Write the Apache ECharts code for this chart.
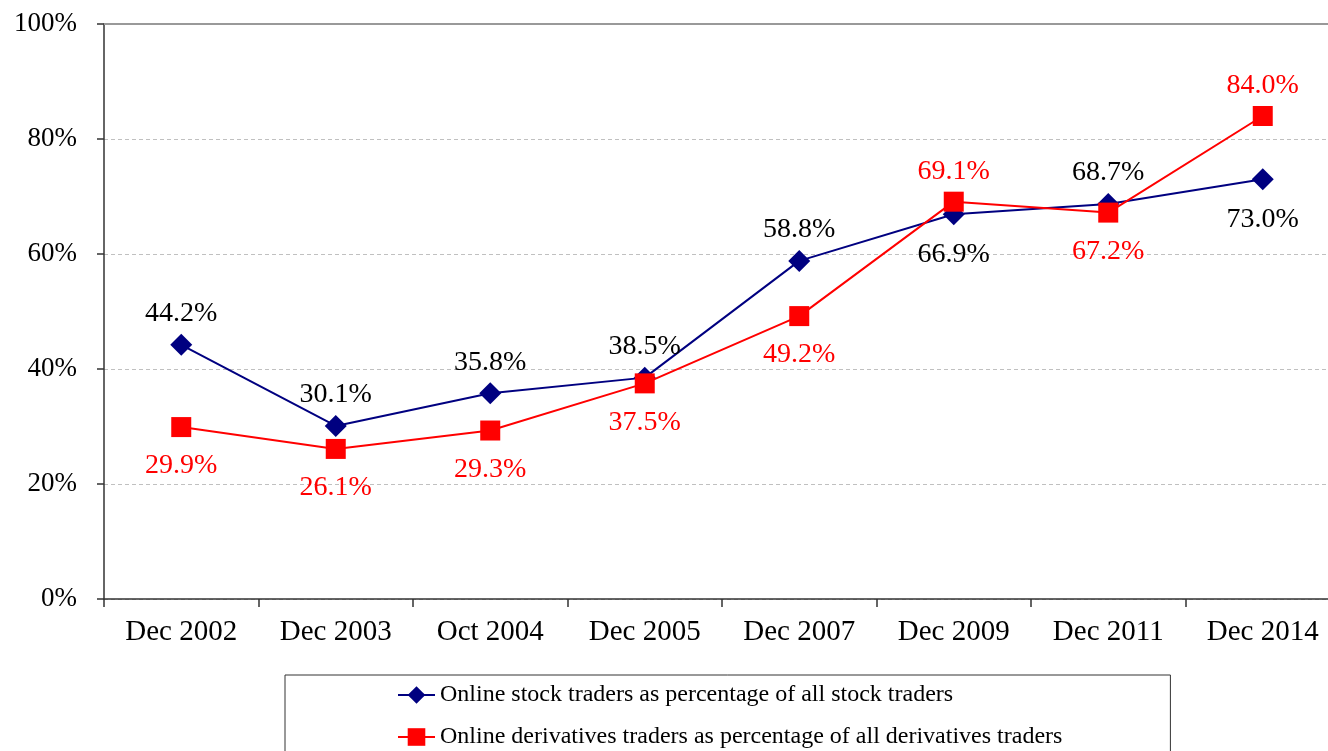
<!DOCTYPE html>
<html>
<head>
<meta charset="utf-8">
<script src="https://cdn.jsdelivr.net/npm/echarts@6/dist/echarts.min.js"></script>
<style>
html,body{margin:0;padding:0;background:#fff;}
#chart{width:1328px;height:751px;}
</style>
</head>
<body>
<div id="chart"></div>
<script>
const categories = ['Dec 2002','Dec 2003','Oct 2004','Dec 2005','Dec 2007','Dec 2009','Dec 2011','Dec 2014'];
const stockValues = [44.2, 30.1, 35.8, 38.5, 58.8, 66.9, 68.7, 73.0];
const derivValues = [29.9, 26.1, 29.3, 37.5, 49.2, 69.1, 67.2, 84.0];
// label placement: true = above the point
const stockLabelAbove = [true, true, true, true, true, false, true, false];
const derivLabelAbove = [false, false, false, false, false, true, false, true];
const stockName = 'Online stock traders as percentage of all stock traders';
const derivName = 'Online derivatives traders as percentage of all derivatives traders';

const FONT = "'Liberation Serif', 'Times New Roman', serif";

function buildData(values, above) {
  return values.map((v, i) => ({
    value: v,
    label: {
      position: above[i] ? 'top' : 'bottom',
      distance: above[i] ? 6 : 15
    }
  }));
}

const chart = echarts.init(document.getElementById('chart'), null, {renderer: 'canvas'});
chart.setOption({
  backgroundColor: '#ffffff',
  animation: false,
  grid: {left: 104, top: 24, width: 1236, height: 575, outerBoundsMode: 'none', containLabel: false},
  xAxis: {
    type: 'category',
    data: categories,
    boundaryGap: true,
    axisLine: {lineStyle: {color: '#333', width: 1.5}},
    axisTick: {show: true, interval: 0, length: 8, lineStyle: {color: '#333', width: 1.5}},
    axisLabel: {color: '#000', fontFamily: FONT, fontSize: 29, margin: 19, interval: 0}
  },
  yAxis: {
    type: 'value',
    min: 0, max: 100, interval: 20,
    axisLine: {show: true, lineStyle: {color: '#333', width: 1.5}},
    axisTick: {show: true, length: 7, lineStyle: {color: '#333', width: 1.5}},
    axisLabel: {color: '#000', fontFamily: FONT, fontSize: 27, margin: 27, padding: [5, 0, 0, 0], formatter: '{value}%'},
    splitLine: {show: true, lineStyle: {color: '#c0c0c0', type: [4, 3], width: 1}}
  },
  legend: {
    orient: 'vertical',
    left: 285, top: 675,
    width: 888, height: 120,
    padding: [8, 108, 30, 112],
    itemGap: 18,
    itemWidth: 37, itemHeight: 22,
    borderColor: '#333', borderWidth: 1,
    textStyle: {color: '#000', fontFamily: FONT, fontSize: 24},
    data: [stockName, derivName]
  },
  series: [
    {
      name: stockName,
      type: 'line',
      data: buildData(stockValues, stockLabelAbove),
      symbol: 'diamond', symbolSize: 22,
      lineStyle: {color: '#000080', width: 2},
      itemStyle: {color: '#000080'},
      label: {show: true, color: '#000', fontFamily: FONT, fontSize: 28, formatter: p => p.value.toFixed(1) + '%'},
      markLine: {
        silent: true, symbol: 'none', label: {show: false},
        lineStyle: {color: '#999', type: 'solid', width: 2},
        data: [{yAxis: 100}]
      },
      z: 3
    },
    {
      name: derivName,
      type: 'line',
      data: buildData(derivValues, derivLabelAbove),
      symbol: 'rect', symbolSize: 20,
      lineStyle: {color: '#ff0000', width: 2},
      itemStyle: {color: '#ff0000'},
      label: {show: true, color: '#ff0000', fontFamily: FONT, fontSize: 28, formatter: p => p.value.toFixed(1) + '%'},
      z: 4
    }
  ]
});
</script>
</body>
</html>
